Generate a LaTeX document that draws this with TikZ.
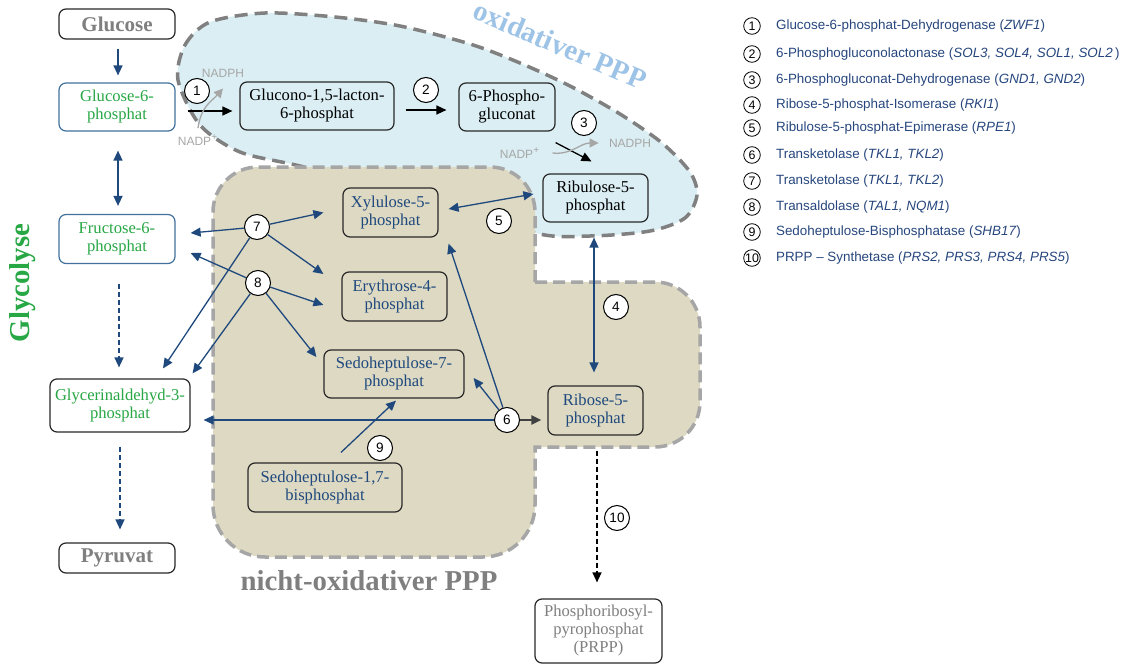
\documentclass[tikz,border=0pt]{standalone}
\usepackage{fontspec}
\setmainfont{Liberation Serif}
\setsansfont{Liberation Sans}
\usepackage{tikz}
\usetikzlibrary{positioning, calc, arrows.meta}

\definecolor{oxfill}{RGB}{218,238,243}
\definecolor{nofill}{RGB}{221,217,195}
\definecolor{oxline}{RGB}{128,128,128}
\definecolor{noline}{RGB}{166,166,166}
\definecolor{oxlabel}{RGB}{157,195,230}
\definecolor{arrblue}{RGB}{31,73,125}
\definecolor{glygreen}{RGB}{40,167,69}
\definecolor{txtgray}{RGB}{127,127,127}
\definecolor{cofgray}{RGB}{166,166,166}
\definecolor{legblue}{RGB}{38,70,125}
\definecolor{boxline}{RGB}{40,40,40}
\definecolor{glyline}{RGB}{65,113,156}
\definecolor{dkgray}{RGB}{64,64,64}

\newcommand{\boxfont}{\fontsize{8.3}{9}\selectfont}
\newcommand{\headfont}{\bfseries\fontsize{10.5}{12}\selectfont}
\newcommand{\areafont}{\bfseries\fontsize{14.4}{16}\selectfont}
\newcommand{\enzfont}{\sffamily\fontsize{6.8}{7}\selectfont}
\newcommand{\coffont}{\sffamily\fontsize{6}{7}\selectfont}
\newcommand{\legfont}{\sffamily\fontsize{6.7}{8}\selectfont}

\begin{document}
\begin{tikzpicture}[
    x=0.5pt, y=-0.5pt,
    >={Triangle[length=5pt, width=4.5pt]},
    molbox/.style={draw=boxline, line width=0.6pt, rounded corners=3.5pt,
        align=center, inner sep=0pt, font=\boxfont},
    boxsize/.style 2 args={minimum width=#1*0.5pt, minimum height=#2*0.5pt},
    enz/.style={circle, draw, fill=white, line width=0.5pt, inner sep=0pt,
        minimum size=12.5pt, font=\enzfont},
    legnum/.style={circle, draw, line width=0.4pt, inner sep=0pt,
        minimum size=8.3pt, font=\sffamily\fontsize{6.2}{7}\selectfont},
    legtext/.style={text=legblue, font=\legfont, inner sep=0pt},
    cof/.style={text=cofgray, font=\coffont, inner sep=1pt},
    blarrow/.style={draw=arrblue, line width=0.65pt, ->},
    bldashed/.style={blarrow, dash pattern=on 2.5pt off 1.5pt},
    bkarrow/.style={draw=black, line width=0.65pt, ->},
    bkdashed/.style={bkarrow, dash pattern=on 2.5pt off 1.5pt},
    gyarrow/.style={draw=cofgray, line width=0.65pt,
        -{Triangle[length=4.5pt, width=4.5pt]}}
]
\useasboundingbox (0,0) rectangle (1137,664);

% Bereiche
\draw[fill=oxfill, draw=oxline, line width=1.75pt, dash pattern=on 6.5pt off 3.5pt]
    plot[smooth cycle, tension=0.5] coordinates {
    (178,80) (185,45) (210,22) (265,13) (335,17) (400,26) (470,44) (520,63)
    (570,86) (620,114) (662,143) (690,172) (697,195) (685,218) (650,231)
    (590,236) (535,233) (420,195) (300,166) (240,152) (200,125)};
\draw[fill=nofill, draw=noline, line width=1.75pt, dash pattern=on 6pt off 3pt]
    (535,282) -- (655,282) arc[start angle=90, end angle=0, radius=22.5pt]
    -- (700,402) arc[start angle=0, end angle=-90, radius=22.5pt]
    -- (535,447) -- (535,505) arc[start angle=0, end angle=-90, radius=26pt]
    -- (265,557) arc[start angle=-90, end angle=-180, radius=26pt]
    -- (213,212) arc[start angle=180, end angle=90, radius=22.5pt]
    -- (490,167) arc[start angle=90, end angle=0, radius=22.5pt]
    -- cycle;

% Beschriftungen
\node[text=glygreen, font=\areafont, rotate=90] (glyco) at (23,283) {Glycolyse};
\node[text=oxlabel, font=\areafont, rotate=-23] (oxppp) at (560,45) {oxidativer PPP};
\node[text=txtgray, font=\areafont] (noxppp) at (369,581) {nicht-oxidativer PPP};

% Glykolyse
\node[molbox, boxsize={116}{30}, fill=white, font=\headfont, text=txtgray] (glucose) at (117,24) {Glucose};
\node[molbox, boxsize={116}{48}, fill=white, draw=glyline, text=glygreen] (g6p) at (117,107) {Glucose-6-\\phosphat};
\node[molbox, boxsize={116}{49}, fill=white, draw=glyline, text=glygreen] (f6p) at (117,239) {Fructose-6-\\phosphat};
\node[molbox, boxsize={140}{53}, fill=white, text=glygreen] (gap) at (120,405.5) {Glycerinaldehyd-3-\\phosphat};
\node[molbox, boxsize={116}{30}, fill=white, font=\headfont, text=txtgray] (pyruvat) at (117,558) {Pyruvat};

% oxidativer Teil
\node[molbox, boxsize={154}{48}, fill=oxfill] (glucono) at (317,106) {Glucono-1,5-lacton-\\6-phosphat};
\node[molbox, boxsize={96}{48}, fill=oxfill] (pglu) at (507,107) {6-Phospho-\\gluconat};
\node[molbox, boxsize={105}{48}, fill=oxfill] (ribulose) at (595.5,198) {Ribulose-5-\\phosphat};

% nicht-oxidativer Teil
\node[molbox, boxsize={95}{49}, fill=nofill, text=arrblue] (xylulose) at (390.5,212.5) {Xylulose-5-\\phosphat};
\node[molbox, boxsize={105}{49}, fill=nofill, text=arrblue] (erythrose) at (394.5,296.5) {Erythrose-4-\\phosphat};
\node[molbox, boxsize={140}{48}, fill=nofill, text=arrblue] (sedo7) at (394,374) {Sedoheptulose-7-\\phosphat};
\node[molbox, boxsize={95}{49}, fill=nofill, text=arrblue] (ribose) at (595.5,410.5) {Ribose-5-\\phosphat};
\node[molbox, boxsize={154}{49}, fill=nofill, text=arrblue] (sedo17) at (325,487.5) {Sedoheptulose-1,7-\\bisphosphat};
\node[molbox, boxsize={127}{64}, fill=white, text=txtgray] (prpp) at (598.5,631) {Phosphoribosyl-\\pyrophosphat\\(PRPP)};

% Cofaktoren
\node[cof] (nadph1) at (223,73) {NADPH};
\node[cof] (nadp1) at (198,140) {NADP\textsuperscript{+}};
\node[cof] (nadp3) at (520,153) {NADP\textsuperscript{+}};
\node[cof] (nadph3) at (630,143) {NADPH};

% Pfeile Glykolyse
\draw[blarrow] ($(glucose.south)+(1,9)$) -- ($(g6p.north)+(1,-7)$);
\draw[blarrow, <->] ($(g6p.south)+(1,19)$) -- ($(f6p.north)+(1,-8)$);
\draw[bldashed] ($(f6p.south)+(2,20)$) -- ($(gap.north)+(-1,-11)$);
\draw[bldashed] ($(gap.south)+(0,14)$) -- ($(pyruvat.north)+(3,-13)$);

% Pfeile oxidativ
\draw[bkarrow] ($(g6p.east)+(12,4)$) -- ($(glucono.west)+(-7,5)$);
\draw[bkarrow] ($(glucono.east)+(11,4)$) -- ($(pglu.west)+(-12,3)$);
\draw[bkarrow] ($(pglu.south east)+(0,11)$) -- ($(ribulose.north)+(-4,-12)$);
\draw[gyarrow] ($(nadp1.north)+(0,-4)$) .. controls (201,106) and (212,101) .. ($(nadph1.south)+(0,9)$);
\draw[gyarrow] ($(nadp3.east)+(10,0)$) .. controls (572,155) and (580,143) .. ($(nadph3.west)+(-8,0)$);

% Enzyme
\node[enz] (c1) at (197,91) {1};
\node[enz] (c2) at (426,90) {2};
\node[enz] (c3) at (584,123) {3};
\node[enz] (c4) at (616,307) {4};
\node[enz] (c5) at (499,221) {5};
\node[enz] (c6) at (507,420) {6};
\node[enz] (c7) at (257,227) {7};
\node[enz] (c8) at (258,283) {8};
\node[enz] (c9) at (380,448) {9};
\node[enz] (c10) at (617,518) {10};

% Pfeile nicht-oxidativ
\draw[blarrow] (c7) -- ($(f6p.east)+(15,-6)$);
\draw[blarrow] (c7) -- ($(xylulose.west)+(-19,0)$);
\draw[blarrow] (c7) -- ($(erythrose.west)+(-18,-22.5)$);
\draw[blarrow] (c7) -- ($(gap.north)+(43,-10)$);
\draw[blarrow] (c8) -- ($(f6p.east)+(15,14)$);
\draw[blarrow] (c8) -- ($(erythrose.west)+(-18,8.5)$);
\draw[blarrow] (c8) -- ($(sedo7.west)+(-7,-17)$);
\draw[blarrow] (c8) -- ($(gap.north east)+(2,-5)$);
\draw[blarrow, <->] ($(xylulose.east)+(10,-3.5)$) -- ($(ribulose.west)+(-9,-4)$);
\draw[blarrow, <->] ($(ribulose.south)+(-1.5,15)$) -- ($(ribose.north)+(-1.5,-13)$);
\draw[blarrow] (c6) -- ($(gap.east)+(13,14.5)$);
\draw[blarrow] (c6) -- ($(xylulose.south east)+(10,6)$);
\draw[blarrow] (c6) -- ($(sedo7.east)+(9,4)$);
\draw[draw=dkgray, line width=1pt, ->] (c6) -- ($(ribose.west)+(-6,9.5)$);
\draw[blarrow] ($(sedo17.north)+(16,-10)$) -- ($(sedo7.south)+(2,2)$);
\draw[bkdashed] ($(ribose.south)+(1.5,15)$) -- ($(prpp.north)+(-1.5,-16)$);

% Legende
\foreach \n/\yy/\txt in {
    1/26/{Glucose-6-phosphat-Dehydrogenase (\textit{ZWF1})},
    2/54/{6-Phosphogluconolactonase (\textit{SOL3, SOL4, SOL1, SOL2}\,)},
    3/80/{6-Phosphogluconat-Dehydrogenase (\textit{GND1, GND2})},
    4/105/{Ribose-5-phosphat-Isomerase (\textit{RKI1})},
    5/128/{Ribulose-5-phosphat-Epimerase (\textit{RPE1})},
    6/155/{Transketolase (\textit{TKL1, TKL2})},
    7/181/{Transketolase (\textit{TKL1, TKL2})},
    8/207/{Transaldolase (\textit{TAL1, NQM1})},
    9/232/{Sedoheptulose-Bisphosphatase (\textit{SHB17})},
    10/258/{PRPP -- Synthetase (\textit{PRS2, PRS3, PRS4, PRS5})}}{
    \node[legnum] (l\n) at (752,\yy) {\n};
    \node[legtext, right=7.5pt of l\n] (lt\n) {\txt};
}

\end{tikzpicture}
\end{document}
